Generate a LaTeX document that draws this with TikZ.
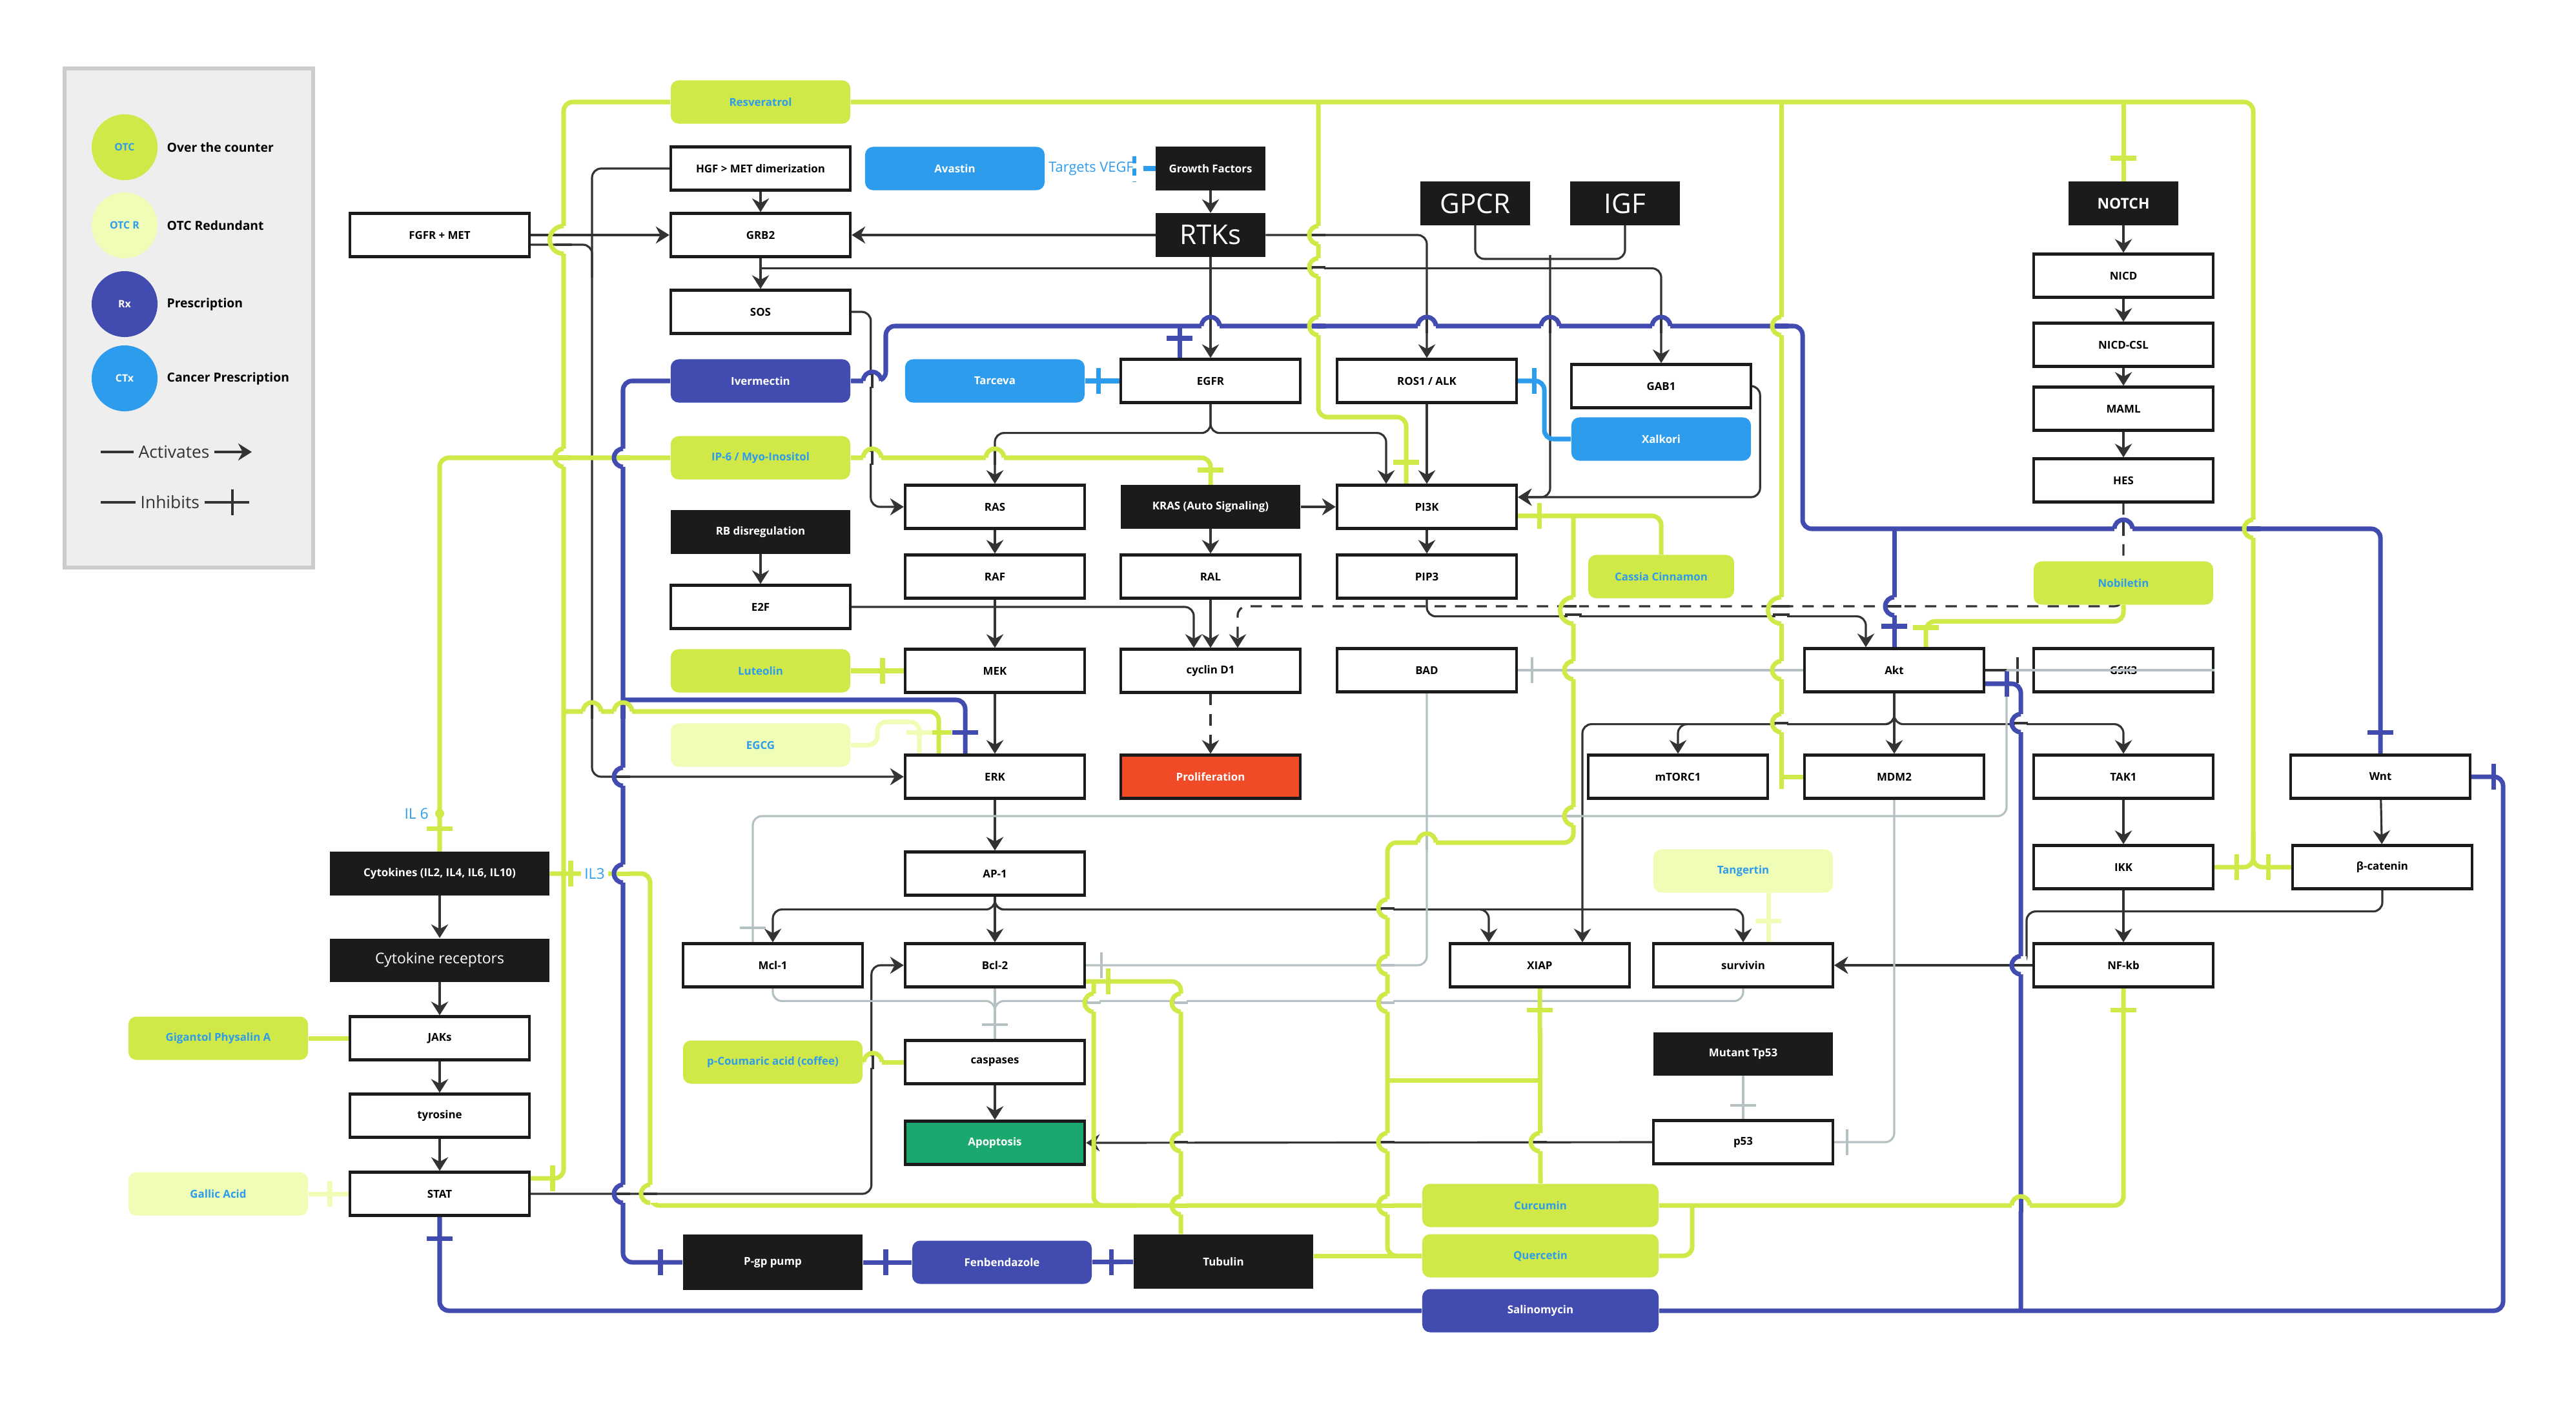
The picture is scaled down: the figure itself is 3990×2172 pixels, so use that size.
\documentclass[tikz,border=0pt]{standalone}
\usepackage{fontspec}
\setmainfont{Open Sans}
\usetikzlibrary{arrows.meta,calc}
\pgfdeclarelayer{bg}
\pgfsetlayers{bg,main}
\definecolor{otc}{HTML}{D1E849}
\definecolor{otcr}{HTML}{F0FDB6}
\definecolor{rx}{HTML}{424BB0}
\definecolor{ctx}{HTML}{2E9CEC}
\definecolor{blk}{HTML}{1B1B1B}
\definecolor{lineblk}{HTML}{333333}
\definecolor{grayl}{HTML}{B5C0C3}
\definecolor{prolif}{HTML}{F04A26}
\definecolor{apop}{HTML}{1AA86E}
\definecolor{legbg}{HTML}{EEEEEE}
\definecolor{legbd}{HTML}{CCCCCC}
\newcommand\fsz[1]{\fontsize{#1}{#1}\selectfont}
\newcommand\inhV[3]{\draw[#1] (#2,#3-20) -- (#2,#3+20);}
\newcommand\inhH[3]{\draw[#1] (#2-20,#3) -- (#2+20,#3);}
% hop of a horizontal line (#1) over a vertical line (#2) at (#3,#4)
\newcommand\hopH[4]{\fill[white] (#3-14,#4-9) rectangle (#3+14,#4+9);
  \draw[#2] (#3,#4-11) -- (#3,#4+11);
  \draw[#1] (#3-14,#4) arc (180:360:14);}
% hop of a vertical line (#1) over a horizontal line (#2) at (#3,#4)
\newcommand\hopV[4]{\fill[white] (#3-9,#4-14) rectangle (#3+9,#4+14);
  \draw[#2] (#3-11,#4) -- (#3+11,#4);
  \draw[#1] (#3,#4-14) arc (-90:-270:14);}
\tikzset{
 nbase/.style={inner sep=1pt, align=center, minimum width=2.78cm, minimum height=0.67cm, font=\fsz{4.8}\bfseries},
 wbox/.style={nbase, draw=blk, line width=1.2pt, fill=white},
 bbox/.style={nbase, fill=blk, text=white},
 otcn/.style={nbase, fill=otc, text=ctx, rounded corners=3.5pt},
 otcrn/.style={nbase, fill=otcr, text=ctx, rounded corners=3.5pt},
 rxn/.style={nbase, fill=rx, text=white, rounded corners=3.5pt},
 ctxn/.style={nbase, fill=ctx, text=white, rounded corners=3.5pt},
 narrow/.style={minimum width=1.69cm},
 act/.style={draw=lineblk, line width=0.9pt, -{Stealth[length=6pt,width=7.5pt,inset=2pt]}},
 conn/.style={draw=lineblk, line width=0.9pt},
 dact/.style={act, dash pattern=on 5pt off 4pt},
 grl/.style={draw=grayl, line width=0.9pt},
 gl/.style={draw=otc, line width=2pt},
 pl/.style={draw=otcr, line width=2pt},
 bl/.style={draw=rx, line width=2pt},
 cl/.style={draw=ctx, line width=2pt},
 rc/.style={rounded corners=4pt},
}
\begin{document}
\begin{tikzpicture}[x=0.01cm,y=-0.01cm]
\path[use as bounding box] (0,0) rectangle (3990,2172);
\begin{pgfonlayer}{bg}
\fill[white] (0,0) rectangle (3990,2172);
\end{pgfonlayer}
% legend
\draw[draw=legbd, fill=legbg, line width=1.5pt] (100,106) rectangle (485,879);
\node[circle, fill=otc, minimum size=1.02cm, inner sep=0, font=\fsz{4.5}\bfseries, text=ctx] (lg1) at (193,228) {OTC};
\node[circle, fill=otcr, minimum size=1.02cm, inner sep=0, font=\fsz{4.5}\bfseries, text=ctx] (lg2) at (193,349) {OTC R};
\node[circle, fill=rx, minimum size=1.02cm, inner sep=0, font=\fsz{4.5}\bfseries, text=white] (lg3) at (193,471) {Rx};
\node[circle, fill=ctx, minimum size=1.02cm, inner sep=0, font=\fsz{4.5}\bfseries, text=white] (lg4) at (193,586) {CTx};
\node[anchor=west, font=\fsz{5.5}\bfseries, inner sep=0] (lt1) at (258,228) {Over the counter};
\node[anchor=west, font=\fsz{5.5}\bfseries, inner sep=0] (lt2) at (258,349) {OTC Redundant};
\node[anchor=west, font=\fsz{5.5}\bfseries, inner sep=0] (lt3) at (258,471) {Prescription};
\node[anchor=west, font=\fsz{5.5}\bfseries, inner sep=0] (lt4) at (258,586) {Cancer Prescription};
\node[anchor=west, font=\fsz{7.5}, text=lineblk, inner sep=2pt] (lgact) at (207,700) {Activates};
\draw[conn] (156,700) -- (lgact.west);
\draw[act] (lgact.east) -- (390,700);
\node[anchor=west, font=\fsz{7.5}, text=lineblk, inner sep=2pt] (lginh) at (210,778) {Inhibits};
\draw[conn] (156,778) -- (lginh.west);
\draw[conn] (lginh.east) -- (386,778);
\inhV{conn}{360}{778}
% nodes
\node[otcn] (res) at (1178,158) {Resveratrol};
\node[wbox] (hgf) at (1178,261) {HGF > MET dimerization};
\node[ctxn] (avastin) at (1479,261) {Avastin};
\node[font=\fsz{6.2}, text=ctx, inner sep=0] (vegf) at (1690,261) {Targets VEGF};
\node[bbox, narrow] (gf) at (1875,261) {Growth Factors};
\node[bbox, narrow, font=\fsz{12}] (rtks) at (1875,364) {RTKs};
\node[wbox] (fgfr) at (681,364) {FGFR + MET};
\node[wbox] (grb2) at (1178,364) {GRB2};
\node[wbox] (sos) at (1178,483) {SOS};
\node[rxn] (iver) at (1178,590) {Ivermectin};
\node[ctxn] (tarceva) at (1541,590) {Tarceva};
\node[wbox] (egfr) at (1875,590) {EGFR};
\node[wbox] (ros) at (2210,590) {ROS1 / ALK};
\node[wbox] (gab1) at (2573,598) {GAB1};
\node[ctxn] (xalkori) at (2573,680) {Xalkori};
\node[bbox, narrow, font=\fsz{12}] (gpcr) at (2285,315) {GPCR};
\node[bbox, narrow, font=\fsz{12}] (igf) at (2517,315) {IGF};
\node[bbox, narrow, font=\fsz{6.5}\bfseries] (notch) at (3289,315) {NOTCH};
\node[wbox] (nicd) at (3289,427) {NICD};
\node[wbox] (nicdcsl) at (3289,534) {NICD-CSL};
\node[wbox] (maml) at (3289,633) {MAML};
\node[wbox] (hes) at (3289,744) {HES};
\node[otcn] (nobiletin) at (3289,903) {Nobiletin};
\node[otcn] (ip6) at (1178,709) {IP-6 / Myo-Inositol};
\node[wbox] (ras) at (1541,785) {RAS};
\node[bbox] (kras) at (1875,785) {KRAS (Auto Signaling)};
\node[wbox] (pi3k) at (2210,785) {PI3K};
\node[bbox] (rb) at (1178,824) {RB disregulation};
\node[wbox] (raf) at (1541,893) {RAF};
\node[wbox] (ral) at (1875,893) {RAL};
\node[wbox] (pip3) at (2210,893) {PIP3};
\node[otcn, minimum width=2.26cm] (cassia) at (2573,893) {Cassia Cinnamon};
\node[wbox] (e2f) at (1178,940) {E2F};
\node[otcn] (luteolin) at (1178,1039) {Luteolin};
\node[wbox] (mek) at (1541,1039) {MEK};
\node[wbox] (cyclin) at (1875,1039) {cyclin D1};
\node[wbox] (bad) at (2210,1038) {BAD};
\node[wbox] (akt) at (2934,1038) {Akt};
\node[wbox] (gsk3) at (3289,1038) {GSK3};
\node[otcrn] (egcg) at (1178,1154) {EGCG};
\node[wbox] (erk) at (1541,1203) {ERK};
\node[wbox, fill=prolif, text=white] (prolif) at (1875,1203) {Proliferation};
\node[wbox] (mtorc1) at (2599,1203) {mTORC1};
\node[wbox] (mdm2) at (2934,1203) {MDM2};
\node[wbox] (tak1) at (3289,1203) {TAK1};
\node[wbox] (wnt) at (3687,1203) {Wnt};
\node[wbox] (ap1) at (1541,1353) {AP-1};
\node[bbox, minimum width=3.39cm] (cytokines) at (681,1353) {Cytokines (IL2, IL4, IL6, IL10)};
\node[wbox] (ikk) at (3289,1343) {IKK};
\node[wbox] (bcat) at (3690,1343) {β-catenin};
\node[otcrn] (tangertin) at (2700,1349) {Tangertin};
\node[wbox] (mcl1) at (1197,1495) {Mcl-1};
\node[wbox] (bcl2) at (1541,1495) {Bcl-2};
\node[wbox] (xiap) at (2385,1495) {XIAP};
\node[wbox] (survivin) at (2700,1495) {survivin};
\node[wbox] (nfkb) at (3289,1495) {NF-kb};
\node[bbox, minimum width=3.39cm, font=\fsz{6.5}] (cytrec) at (681,1487) {Cytokine receptors};
\node[wbox] (jaks) at (681,1608) {JAKs};
\node[otcn] (gigantol) at (338,1608) {Gigantol Physalin A};
\node[otcn] (pcoum) at (1197,1645) {p-Coumaric acid (coffee)};
\node[wbox] (caspases) at (1541,1645) {caspases};
\node[bbox] (mutant) at (2700,1632) {Mutant Tp53};
\node[wbox] (tyrosine) at (681,1728) {tyrosine};
\node[wbox, fill=apop, text=white] (apoptosis) at (1541,1770) {Apoptosis};
\node[wbox] (p53) at (2700,1769) {p53};
\node[otcrn] (gallic) at (338,1849) {Gallic Acid};
\node[wbox] (stat) at (681,1849) {STAT};
\node[otcn, minimum width=3.66cm] (curcumin) at (2386,1867) {Curcumin};
\node[otcn, minimum width=3.66cm] (quercetin) at (2386,1945) {Quercetin};
\node[bbox, minimum height=0.86cm] (pgp) at (1197,1955) {P-gp pump};
\node[rxn] (fenben) at (1552,1955) {Fenbendazole};
\node[bbox, minimum height=0.84cm] (tubulin) at (1895,1954) {Tubulin};
\node[rxn, minimum width=3.66cm] (salino) at (2386,2030) {Salinomycin};
\node[font=\fsz{6.5}, text=ctx, anchor=east, inner sep=1pt] (il6) at (668,1260) {IL 6};
\begin{pgfonlayer}{bg}
% black activations
\draw[act] (hgf) -- (grb2);
\draw[act] (grb2) -- (sos);
\draw[act] (gf) -- (rtks);
\draw[act] (rtks) -- (grb2);
\draw[act] (fgfr.east) -- (grb2.west);
\draw[act,rc] (hgf.west) -| (917,1203) -- (erk.west);
\draw[conn,rc] ($(fgfr.east)+(0,15)$) -| (917,430);
\draw[act,rc] ($(grb2.south)+(0,16)$) -| (gab1.north);
\draw[act,rc] (rtks.east) -| (ros.north);
\draw[act] (rtks) -- (egfr);
\draw[conn,rc] (gpcr.south) |- (2401,401);
\draw[conn,rc] (igf.south) |- (2401,401);
\draw[act,rc] (2401,395) |- ($(pi3k.east)+(0,-15)$);
\draw[act,rc] (gab1.east) -- ++(12,0) |- ($(pi3k.east)+(0,-15)$);
\draw[act] (ros) -- (pi3k);
\draw[act,rc] (egfr.south) -- ++(0,45) -| (ras.north);
\draw[act,rc] (egfr.south) -- ++(0,45) -| ($(pi3k.north)+(-63,0)$);
\draw[act,rc] (sos.east) -| ($(ras.west)+(-51,0)$) -- (ras.west);
\draw[act] (kras) -- (pi3k);
\draw[act] (kras) -- (ral);
\draw[act] (ras) -- (raf);
\draw[act] (raf) -- (mek);
\draw[act] (mek) -- (erk);
\draw[act] (erk) -- (ap1);
\draw[act] (rb) -- (e2f);
\draw[act] (ral) -- (cyclin);
\draw[act,rc] (e2f.east) -| ($(cyclin.north)+(-26,0)$);
\draw[act] (notch) -- (nicd);
\draw[act] (nicd) -- (nicdcsl);
\draw[act] (nicdcsl) -- (maml);
\draw[act] (maml) -- (hes);
\draw[dact,rc] (hes.south) -- (3289,939) -| ($(cyclin.north)+(42,0)$);
\draw[dact] (cyclin) -- (prolif);
\draw[act] (pi3k) -- (pip3);
\draw[act,rc] (pip3.south) -- ++(0,26) -| ($(akt.north)+(-44,0)$);
\draw[act,rc] (akt.south) -- ++(0,48) -| (mtorc1.north);
\draw[act,rc] (akt.south) -- ++(0,48) -| ($(xiap.north)+(66,0)$);
\draw[act] (akt) -- (mdm2);
\draw[act,rc] (akt.south) -- ++(0,48) -| (tak1.north);
\draw[act] (tak1) -- (ikk);
\draw[act] (ikk) -- (nfkb);
\draw[act] (wnt) -- (bcat);
\draw[act,rc] (bcat.south) -- ++(0,33) -| (3139,1495) -- (survivin.east);
\draw[act] (nfkb) -- (survivin);
\draw[act,rc] (ap1.south) -- ++(0,20) -| (mcl1.north);
\draw[act] (ap1) -- (bcl2);
\draw[act,rc] (ap1.south) -- ++(0,20) -| ($(xiap.north)+(-79,0)$);
\draw[act,rc] (ap1.south) -- ++(0,20) -| (survivin.north);
\draw[act,rc] (stat.east) -| ($(bcl2.west)+(-50,0)$) -- (bcl2.west);
\draw[act] (caspases) -- (apoptosis);
\draw[act] (p53.west) -- (apoptosis.east);
\draw[act] (cytokines) -- (cytrec);
\draw[act] (cytrec) -- (jaks);
\draw[act] (jaks) -- (tyrosine);
\draw[act] (tyrosine) -- (stat);
\draw[conn] (akt.east) -- ++(53,0);
\inhV{conn}{3125}{1038}
% gray inhibitions
\draw[grl] (akt.west) -- (bad.east); \inhV{grl}{2373}{1038}
\draw[grl,rc] (bad.south) |- (bcl2.east); \inhV{grl}{1706}{1495}
\draw[grl,rc] (mdm2.south) |- (p53.east); \inhV{grl}{2861}{1769}
\draw[grl] (mutant) -- (p53); \inhH{grl}{2700}{1712}
\draw[grl,rc] (mcl1.south) |- ($(caspases.north)+(0,-59)$) -- (caspases.north);
\draw[grl] (bcl2) -- (caspases);
\draw[grl,rc] (survivin.south) |- ($(caspases.north)+(0,-59)$) -- (caspases.north);
\inhH{grl}{1541}{1587}
\draw[grl,rc] (3108,1038) -- (3108,1264) -| ($(mcl1.north)+(-31,0)$);
\inhH{grl}{1166}{1437}
% green (OTC)
\draw[gl,rc] (res.west) -| (873,1825) -- ($(stat.east)+(0,-24)$); \inhV{gl}{856}{1825}
\draw[gl,rc] (873,1102) -| ($(erk.north)+(-87,0)$); \inhH{gl}{1454}{1134}
\draw[gl,rc] (res.east) -| (3490,1343) -- (ikk.east);
\draw[gl,rc] (3490,1290) -- (3490,1343) -- (bcat.west);
\inhV{gl}{3464}{1343} \inhV{gl}{3513}{1343}
\draw[gl,rc] (2042,158) |- (2178,646) -- ($(pi3k.north)+(-32,0)$); \inhH{gl}{2178}{716}
\draw[gl] (2759,158) -- (2759,1222);
\draw[gl] (2759,1203) -- (mdm2.west);
\draw[gl] (3289,158) -- (notch.north); \inhH{gl}{3289}{245}
\draw[gl,rc] (ip6.west) -| (cytokines.north); \inhH{gl}{681}{1283}
\fill[otc] (681,1260) circle (7);
\draw[gl,rc] (ip6.east) -| (kras.north); \inhH{gl}{1875}{728}
\draw[gl] (luteolin) -- (mek); \inhV{gl}{1367}{1039}
\draw[pl,rc] (egcg.east) -- (1359,1154) -- (1359,1118) -- (1424,1118) -- ($(erk.north)+(-117,0)$); \inhH{pl}{1424}{1134}
\draw[gl,rc] (cassia.north) |- ($(pi3k.east)+(0,14)$); \inhV{gl}{2384}{799}
\draw[gl,rc] (2437,799) -- (2437,1305) -| (2149,1945) -- (quercetin.west);
\draw[gl] (tubulin.east |- quercetin.west) -- (quercetin.west);
\draw[gl,rc] (2149,1673) -- (2385,1673);
\draw[gl] (curcumin.north) -- (xiap.south); \inhH{gl}{2385}{1564}
\draw[gl,rc] (curcumin.west) -| (1007,1353) -- (cytokines.east); \inhV{gl}{884}{1353}
\draw[gl,rc] ($(bcl2.east)+(0,25)$) -| ($(tubulin.north)+(-66,0)$); \inhV{gl}{1716}{1520}
\draw[gl,rc] (1694,1520) |- (1760,1867);
\draw[gl,rc] (curcumin.east) -| (nfkb.south); \inhH{gl}{3289}{1564}
\draw[gl,rc] (quercetin.east) -| (2621,1867);
\draw[gl,rc] (nobiletin.south) |- ($(akt.north)+(49,-40)$) -- ($(akt.north)+(49,0)$); \inhH{gl}{2983}{972}
\draw[pl] ($(tangertin.south)+(39,0)$) -- ($(survivin.north)+(39,0)$); \inhH{pl}{2739}{1426}
\draw[gl] (pcoum) -- (caspases);
\draw[gl] (gigantol) -- (jaks);
\draw[pl] (gallic) -- (stat); \inhV{pl}{511}{1849}
% blue (Rx)
\draw[bl,rc] (iver.east) -| (1372,505) -| (2792,819) -| (wnt.north); \inhH{bl}{3687}{1134}
\draw[bl] (1827,505) -- ($(egfr.north)+(-48,0)$); \inhH{bl}{1827}{524}
\draw[bl] (2934,819) -- (akt.north); \inhH{bl}{2934}{970}
\draw[bl,rc] (iver.west) -| (965,1955) -- (pgp.west); \inhV{bl}{1023}{1955}
\draw[bl,rc] (965,1084) -| ($(erk.north)+(-46,0)$); \inhH{bl}{1495}{1134}
\draw[bl] (fenben) -- (pgp); \inhV{bl}{1372}{1955}
\draw[bl] (fenben) -- (tubulin); \inhV{bl}{1721}{1955}
\draw[bl,rc] (salino.west) -| (stat.south); \inhH{bl}{681}{1918}
\draw[bl,rc] (salino.east) -| (3877,1203) -- (wnt.east); \inhV{bl}{3862}{1203}
\draw[bl,rc] (3130,2030) -- (3130,1059) -- ($(akt.east)+(0,21)$); \inhV{bl}{3108}{1059}
% light blue (CTx)
\draw[cl] (tarceva) -- (egfr); \inhV{cl}{1701}{590}
\draw[cl,rc] (xalkori.west) -| (2392,590) -- (ros.east); \inhV{cl}{2376}{590}
\draw[cl] ($(gf.west)+(-19,0)$) -- (gf.west);
\draw[ctx, line width=1.6pt, dash pattern=on 3pt off 2.5pt] (1757,242) -- (1757,281);
% line hops
\fill[white] (864,350) rectangle (882,393);
\draw[conn] (860,364) -- (886,364); \draw[conn] (860,379) -- (886,379);
\draw[gl] (873,350) arc (-90:-270:21.5);
\hopV{gl}{gl}{873}{709}
\hopH{gl}{conn}{917}{1102}
\hopH{gl}{bl}{965}{1102}
\hopV{bl}{gl}{965}{709}
\hopV{bl}{conn}{965}{1203}
\hopV{bl}{gl}{965}{1353}
\hopV{bl}{conn}{965}{1849}
\hopV{gl}{conn}{1007}{1849}
\hopH{bl}{conn}{1351}{590}
\hopH{gl}{conn}{1351}{709}
\hopH{gl}{conn}{1541}{709}
\hopH{bl}{conn}{1875}{505}
\hopH{bl}{conn}{2210}{505}
\hopH{bl}{conn}{2401}{505}
\hopH{bl}{conn}{2573}{505}
\hopV{gl}{bl}{2042}{505}
\hopV{gl}{bl}{2759}{505}
\hopV{gl}{conn}{2042}{364}
\hopV{gl}{conn}{2042}{414}
\fill[white] (2428,925) rectangle (2446,966);
\draw[conn,dash pattern=on 5pt off 4pt] (2424,939) -- (2450,939); \draw[conn] (2424,952) -- (2450,952);
\draw[gl] (2437,925) arc (-90:-270:20.5);
\fill[white] (2750,925) rectangle (2768,966);
\draw[conn] (2746,939) -- (2772,939); \draw[conn] (2746,952) -- (2772,952);
\draw[gl] (2759,925) arc (-90:-270:20.5);
\hopV{gl}{grl}{2759}{1038}
\hopV{gl}{conn}{2759}{1120}
\hopV{gl}{grl}{2437}{1038}
\hopV{gl}{grl}{2437}{1264}
\hopH{gl}{grl}{2210}{1305}
\hopV{gl}{conn}{2149}{1407}
\hopV{gl}{grl}{2149}{1495}
\hopV{gl}{grl}{2149}{1553}
\hopV{gl}{conn}{2149}{1769}
\hopV{gl}{gl}{2149}{1867}
\hopV{gl}{conn}{2385}{1769}
\hopV{bl}{conn}{3130}{1120}
\hopV{bl}{conn}{3130}{1495}
\hopH{gl}{bl}{3130}{1867}
\hopH{bl}{conn}{3289}{819}
\hopV{gl}{bl}{3490}{819}
\hopV{bl}{conn}{2934}{939}
\hopV{gl}{grl}{1694}{1553}
\hopV{gl}{grl}{1829}{1553}
\hopV{gl}{conn}{1829}{1769}
\hopV{gl}{gl}{1829}{1867}
\hopH{gl}{conn}{1352}{1645}
\end{pgfonlayer}
% on top
\draw[grl] (gsk3.east) -- (3108,1038);
\node[font=\fsz{6.5}, text=ctx, fill=white, inner sep=1.5pt] (il3) at (921,1353) {IL3};
\end{tikzpicture}
\end{document}
